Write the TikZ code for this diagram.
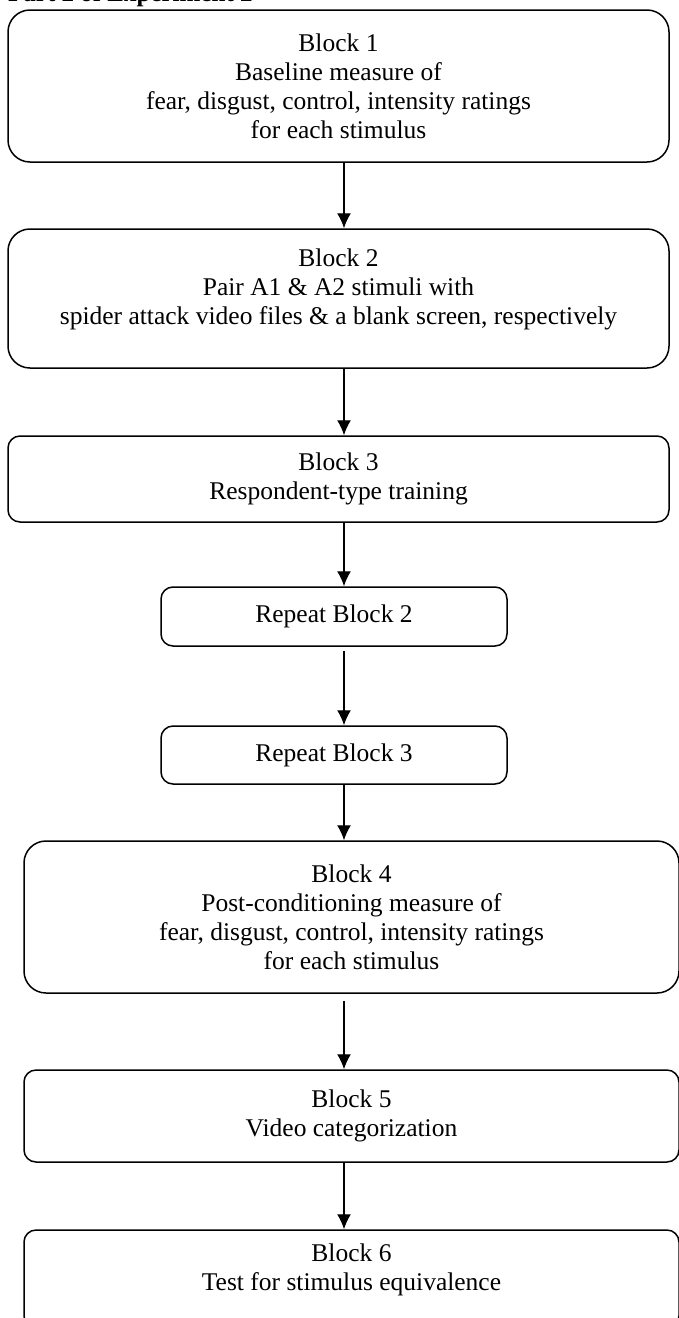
\documentclass[tikz,border=0pt]{standalone}
\usepackage{fontspec}
\setmainfont{Liberation Serif}
\usetikzlibrary{arrows.meta}
\tikzset{next/.style={-{Latex[length=15pt,width=14pt]}, line width=1.4pt}}
\tikzset{bigblock/.style={draw, line width=1.5pt, rounded corners=22pt, align=center, inner sep=0pt, font=\fontsize{25.5}{29}\selectfont}}
\tikzset{smallblock/.style={bigblock, rounded corners=12pt}}

\begin{document}
\begin{tikzpicture}[x=1pt, y=-1pt]
        \useasboundingbox (0,0) rectangle (678,1318);
        \node (title) [anchor=base west, inner sep=0pt, font=\bfseries\fontsize{25}{30}\selectfont] at (8,1) {Part 2 of Experiment 2};
        \coordinate (spine) at (344,0);

        \node (b1) at (338.5,86) [bigblock, minimum width=661pt, minimum height=152pt] {Block 1\\Baseline measure of\\fear, disgust, control, intensity ratings\\for each stimulus};
        \node (b2) at (338.5,298.5) [bigblock, minimum width=661pt, minimum height=139pt, text depth=24pt] {Block 2\\Pair A1 \& A2 stimuli with\\spider attack video files \& a blank screen, respectively};
        \node (b3) at (338.5,479) [smallblock, minimum width=661pt, minimum height=86pt] {Block 3\\Respondent-type training};

        \node (rb2) at (334,616.5) [smallblock, minimum width=346pt, minimum height=59pt] {Repeat Block 2};
        \node (rb3) at (334,755) [smallblock, minimum width=346pt, minimum height=58pt] {Repeat Block 3};

        \node (b4) at (351.5,917) [bigblock, minimum width=655pt, minimum height=152pt] {Block 4\\Post-conditioning measure of\\fear, disgust, control, intensity ratings\\for each stimulus};
        \node (b5) at (351.5,1116) [smallblock, minimum width=655pt, minimum height=92pt] {Block 5\\Video categorization};
        \node (b6) at (351.5,1279) [smallblock, minimum width=655pt, minimum height=98pt, text depth=24pt] {Block 6\\Test for stimulus equivalence};

        \draw[next] (b1.south -| spine) -- (b2.north -| spine);
        \draw[next] (b2.south -| spine) -- (b3.north -| spine);
        \draw[next] (b3.south -| spine) -- (rb2.north -| spine);
        \draw[next, shorten <=4pt] (rb2.south -| spine) -- (rb3.north -| spine);
        \draw[next] (rb3.south -| spine) -- (b4.north -| spine);
        \draw[next, shorten <=7pt] (b4.south -| spine) -- (b5.north -| spine);
        \draw[next] (b5.south -| spine) -- (b6.north -| spine);
\end{tikzpicture}
\end{document}
